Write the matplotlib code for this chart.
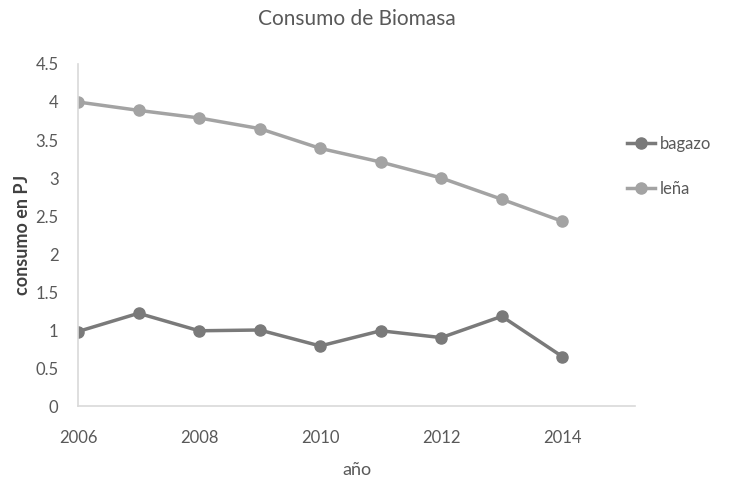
import matplotlib
matplotlib.use("Agg")
import matplotlib.pyplot as plt

years = [2006, 2007, 2008, 2009, 2010, 2011, 2012, 2013, 2014]
bagazo = [0.98, 1.22, 0.99, 1.00, 0.79, 0.99, 0.90, 1.18, 0.65]
lena = [4.00, 3.89, 3.79, 3.65, 3.39, 3.21, 3.00, 2.72, 2.43]
yticks = [0, 0.5, 1, 1.5, 2, 2.5, 3, 3.5, 4, 4.5]
ytick_labels = ["0", "0.5", "1", "1.5", "2", "2.5", "3", "3.5", "4", "4.5"]
xticks = [2006, 2008, 2010, 2012, 2014]

plt.rcParams['font.family'] = ['Lato', 'DejaVu Sans']

fig = plt.figure(figsize=(7.31, 4.83), dpi=100)
ax = fig.add_axes([0.1067, 0.1594, 0.762, 0.7081])

ax.plot(years, bagazo, color='#7a7a7a', lw=2.5, marker='o', ms=8, label='bagazo')
ax.plot(years, lena, color='#a3a3a3', lw=2.5, marker='o', ms=8, label='leña')

ax.set_xlim(2006, 2015.2)
ax.set_ylim(0, 4.5)
ax.set_yticks(yticks)
ax.set_yticklabels(ytick_labels)
ax.set_xticks(xticks)
ax.tick_params(axis='y', length=0, labelsize=12, colors='#595959', pad=14)
ax.tick_params(axis='x', length=0, labelsize=12, colors='#595959', pad=17)
for s in ['top', 'right']:
    ax.spines[s].set_visible(False)
for s in ['left', 'bottom']:
    ax.spines[s].set_color('#d9d9d9')
    ax.spines[s].set_linewidth(1.2)

ax.set_title('Consumo de Biomasa', fontsize=15, color='#595959', pad=28)
ax.set_ylabel('consumo en PJ', fontsize=13, color='#404040', fontweight='bold', labelpad=3)
ax.set_xlabel('año', fontsize=13, color='#595959', labelpad=12)

leg = ax.legend(loc='center left', bbox_to_anchor=(0.973, 0.70), frameon=False,
                fontsize=12, labelcolor='#595959', handlelength=1.7, handletextpad=0.3,
                labelspacing=1.75, borderaxespad=0)

fig.savefig('out.png', dpi=100)
